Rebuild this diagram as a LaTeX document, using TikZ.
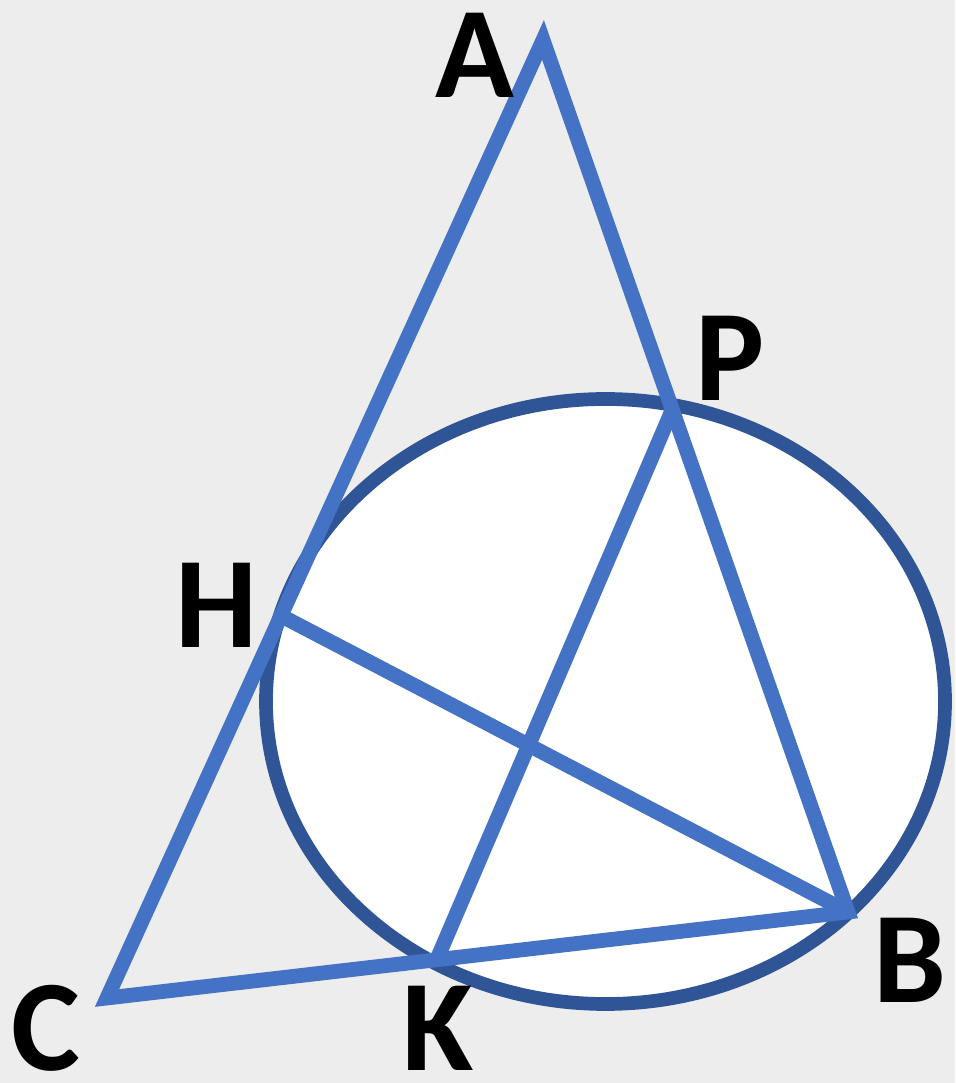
\documentclass[tikz,border=0pt]{standalone}
\usepackage{fontspec}
\setmainfont{Carlito}
\usepackage{xcolor}
\usepackage{tikz}
\usetikzlibrary{calc, positioning}

\definecolor{bgGray}{HTML}{EDEDED}
\definecolor{sideBlue}{HTML}{4472C4}
\definecolor{ringBlue}{HTML}{2F5597}

\begin{document}
\begin{tikzpicture}[
    side/.style={draw=sideBlue, line width=4.2pt},
    ring/.style={draw=ringBlue, fill=white, line width=3.9pt},
    lbl/.style={inner sep=0pt, font=\bfseries\fontsize{37}{40}\selectfont}
]
\fill[bgGray] (0,0) rectangle (9.55,10.83);
\useasboundingbox (0,0) rectangle (9.55,10.83);

% vertices and points on the sides
\coordinate (A) at (5.43,10.43);
\coordinate (B) at (8.48,1.71);
\coordinate (C) at (1.07,0.85);
\coordinate (P) at ($(A)!0.424!(B)$);
\coordinate (H) at ($(A)!0.601!(C)$);
\coordinate (K) at ($(C)!0.445!(B)$);

\draw[ring] (6.055,3.815) ellipse [x radius=3.395, y radius=3.025];

\draw[side] (A) -- (B) -- (C) -- cycle;
\draw[side] (H) -- (B);
\draw[side] (P) -- (K);

\node[lbl] (labA) at (4.75,10.28) {A};
\node[lbl] (labP) at (7.30,7.25) {P};
\node[lbl] (labH) at (2.17,4.78) {H};
\node[lbl] (labB) at (9.10,1.23) {B};
\node[lbl] (labC) at (0.46,0.55) {C};
\node[lbl] (labK) at (4.38,0.55) {K};
\end{tikzpicture}
\end{document}
